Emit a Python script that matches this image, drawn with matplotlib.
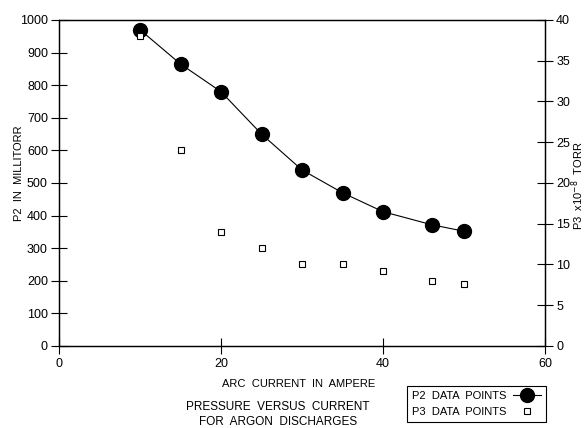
import matplotlib.pyplot as plt
from matplotlib.lines import Line2D

plt.rcParams['font.family'] = ['Liberation Sans', 'DejaVu Sans']

# arc current (A)
current = [10, 15, 20, 25, 30, 35, 40, 46, 50]
# P2 in millitorr
p2 = [970, 865, 780, 650, 540, 470, 412, 372, 352]
# P3 in 1e-8 torr
p3 = [38, 24, 14, 12, 10, 10, 9.2, 8, 7.6]

left_ticks = list(range(0, 1001, 100))
right_ticks = list(range(0, 41, 5))
x_ticks = [0, 20, 40, 60]

fig = plt.figure(figsize=(5.87, 4.28), dpi=100)
ax = fig.add_axes([0.1005, 0.1916, 0.828, 0.7617])
ax2 = ax.twinx()

ax.plot(current, p2, color='black', lw=0.8, marker='o', ms=10,
        mfc='black', mec='black', zorder=3)
ax2.plot(current, p3, ls='none', marker='s', ms=5, mfc='white',
         mec='black', mew=0.8)

ax.set_xlim(0, 60)
ax.set_ylim(0, 1000)
ax2.set_ylim(0, 40)
ax.set_xticks(x_ticks)
ax.set_yticks(left_ticks)
ax2.set_yticks(right_ticks)

for a in (ax, ax2):
    for s in a.spines.values():
        s.set_linewidth(0.9)
ax.tick_params(axis='both', direction='inout', length=12, width=0.8,
               labelsize=9, pad=2)
ax.tick_params(axis='x', pad=3)
ax2.tick_params(axis='y', direction='inout', length=12, width=0.8,
                labelsize=9, pad=2)

# axis labels
ax.set_xlabel('ARC  CURRENT  IN  AMPERE', fontsize=8)
ax.xaxis.set_label_coords(0.494, -0.102)
ax.set_ylabel('P2  IN  MILLITORR', fontsize=8)
ax.yaxis.set_label_coords(-0.072, 0.53)
fig.text(578 / 587, 1 - 186 / 428, r'P3  x10$^{-8}$  TORR', fontsize=8,
         rotation=90, ha='center', va='center')

# caption
fig.text(278 / 587, 1 - 407 / 428, 'PRESSURE  VERSUS  CURRENT',
         ha='center', va='center', fontsize=8.5)
fig.text(278 / 587, 1 - 422 / 428, 'FOR  ARGON  DISCHARGES',
         ha='center', va='center', fontsize=8.5)

handles = [
    Line2D([], [], color='black', lw=0.8, marker='o', ms=10, mfc='black'),
    Line2D([], [], ls='none', marker='s', ms=5, mfc='white', mec='black',
           mew=0.8),
]
leg = fig.legend(handles, ['P2  DATA  POINTS', 'P3  DATA  POINTS'],
                 loc='upper left', bbox_to_anchor=(407 / 587, 1 - 386 / 428),
                 fontsize=8, markerfirst=False, fancybox=False,
                 edgecolor='black', framealpha=1, handlelength=2.5,
                 handletextpad=0.6, borderpad=0.45, labelspacing=0.55,
                 borderaxespad=0)
leg.get_frame().set_linewidth(0.8)

fig.savefig('out.png', dpi=100)
